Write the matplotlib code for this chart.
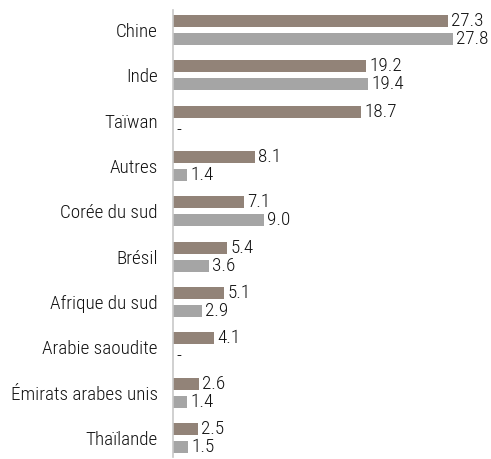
import matplotlib.pyplot as plt
import numpy as np
from matplotlib import font_manager

names = {f.name for f in font_manager.fontManager.ttflist}
fam = 'DejaVu Sans'
for cand in ['Roboto Condensed', 'Liberation Sans Narrow', 'Liberation Sans']:
    if cand in names:
        fam = cand
        break
plt.rcParams['font.family'] = [fam, 'DejaVu Sans']

categories = ['Chine', 'Inde', 'Taïwan', 'Autres', 'Corée du sud', 'Brésil',
              'Afrique du sud', 'Arabie saoudite', 'Émirats arabes unis', 'Thaïlande']
serie1 = [27.3, 19.2, 18.7, 8.1, 7.1, 5.4, 5.1, 4.1, 2.6, 2.5]
serie2 = [27.8, 19.4, None, 1.4, 9.0, 3.6, 2.9, None, 1.4, 1.5]

c1 = '#928378'
c2 = '#a5a5a5'
fs = 13.8
fw = 'light'
txt = '#111111'

fig = plt.figure(figsize=(4.91, 4.59), dpi=100)
ax = fig.add_axes([173 / 491, 2 / 459, 316 / 491, 447 / 459])

y = np.arange(len(categories))
h = 0.265
off = 0.2

for i in range(len(categories)):
    ax.barh(y[i] - off, serie1[i], height=h, color=c1)
    ax.text(serie1[i] + 0.3, y[i] - off, f'{serie1[i]:.1f}', va='center', ha='left',
            fontsize=fs, fontweight=fw, color=txt)
    v = serie2[i]
    if v is None:
        ax.text(0.3, y[i] + off, '-', va='center', ha='left', fontsize=fs,
                fontweight=fw, color=txt)
    else:
        ax.barh(y[i] + off, v, height=h, color=c2)
        ax.text(v + 0.3, y[i] + off, f'{v:.1f}', va='center', ha='left',
                fontsize=fs, fontweight=fw, color=txt)

ax.set_yticks(y)
ax.set_yticklabels(categories, fontsize=fs, fontweight=fw, color=txt)
ax.tick_params(axis='y', length=0, pad=11)
ax.set_xticks([])
ax.set_xlim(0, 31.4)
ax.set_ylim(len(categories) - 1 + 0.42, -0.44)
for s in ['top', 'right', 'bottom']:
    ax.spines[s].set_visible(False)
ax.spines['left'].set_color('#c8c8c8')
ax.spines['left'].set_linewidth(1.2)

fig.savefig('out.png', dpi=100)
